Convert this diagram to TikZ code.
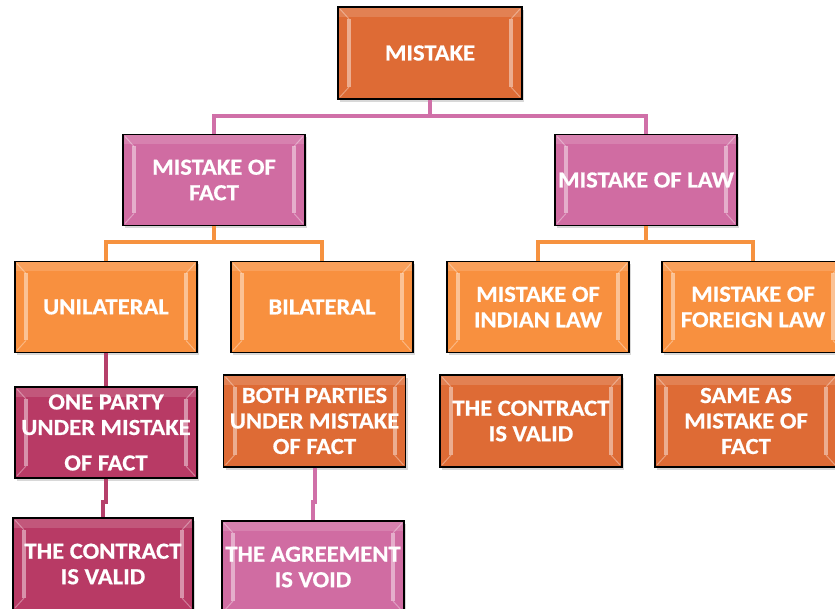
\documentclass[tikz,border=0pt]{standalone}
\usepackage{fontspec}
\setmainfont{Carlito}[FakeStretch=1.07, BoldFeatures={FakeBold=0.6}]
\usetikzlibrary{calc,shadows}
\definecolor{dkorange}{HTML}{DE6B35}
\definecolor{ltorange}{HTML}{F8903F}
\definecolor{pinkbox}{HTML}{D06CA2}
\definecolor{maroon}{HTML}{B83A65}
\definecolor{pinkline}{HTML}{D070A8}
\definecolor{orangeline}{HTML}{F6923F}
\definecolor{maroonline}{HTML}{B5406A}
\tikzset{
  box/.style={draw=black, line width=1.3pt, minimum width=182pt, minimum height=91pt,
    inner sep=0pt, text=white, align=center,
    font=\bfseries\fontsize{23}{25.5}\selectfont,
    drop shadow={opacity=0.3, shadow xshift=2pt, shadow yshift=-3pt},
    path picture={
      \coordinate (nw) at (path picture bounding box.north west);
      \coordinate (ne) at (path picture bounding box.north east);
      \coordinate (sw) at (path picture bounding box.south west);
      \coordinate (se) at (path picture bounding box.south east);
      \fill[white, opacity=0.45] ($(nw)+(9,12)$) rectangle ($(sw)+(13,-12)$);
      \fill[white, opacity=0.45] ($(ne)+(-9,12)$) rectangle ($(se)+(-13,-12)$);
      \draw[white, opacity=0.35, line width=1pt] ($(nw)+(2,2)$) -- ($(nw)+(11,12)$) ($(sw)+(2,-2)$) -- ($(sw)+(11,-12)$)
        ($(ne)+(-2,2)$) -- ($(ne)+(-11,12)$) ($(se)+(-2,-2)$) -- ($(se)+(-11,-12)$);
      \fill[white, opacity=0.15] ($(nw)+(0,0)$) rectangle ($(ne)+(0,10)$);
    }},
  conn/.style={line width=4pt}
}
\begin{document}
\begin{tikzpicture}[x=1pt, y=-1pt]
\useasboundingbox (0,0) rectangle (835,609);
\clip (0,0) rectangle (835,609);
\fill[white] (0,0) rectangle (835,609);
% junction levels
\coordinate (j1) at (0,116);
\coordinate (j2) at (0,242);
\coordinate (j3) at (0,502);
% nodes
\node[box, fill=dkorange, minimum width=184pt, minimum height=92pt] (top) at (430,53) {MISTAKE};
\node[box, fill=pinkbox] (fact) at (214,180) {MISTAKE OF\\FACT};
\node[box, fill=pinkbox] (law) at (646,180) {MISTAKE OF LAW};
\node[box, fill=ltorange] (uni) at (106,307) {UNILATERAL};
\node[box, fill=ltorange] (bi) at (322,307) {BILATERAL};
\node[box, fill=ltorange] (ind) at (538,307) {MISTAKE OF\\INDIAN LAW};
\node[box, fill=ltorange] (for) at (753,307) {MISTAKE OF\\FOREIGN LAW};
\node[box, fill=maroon] (one) at (106,432.5) {ONE PARTY\\UNDER MISTAKE\\[10pt]OF FACT};
\node[box, fill=dkorange, minimum height=92pt] (both) at (314.5,421) {BOTH PARTIES\\UNDER MISTAKE\\OF FACT};
\node[box, fill=dkorange, minimum height=92pt] (cvr) at (531,421) {THE CONTRACT\\IS VALID};
\node[box, fill=dkorange, minimum height=92pt] (same) at (746,421) {SAME AS\\MISTAKE OF\\FACT};
\node[box, fill=maroon, minimum width=180pt, minimum height=92pt] (cvl) at (103,564) {THE CONTRACT\\IS VALID};
\node[box, fill=pinkbox, minimum height=92pt] (void) at (313,567) {THE AGREEMENT\\IS VOID};
% connectors
\draw[conn, pinkline] (top.south) -- (top.south |- j1) -| (fact.north);
\draw[conn, pinkline] (top.south |- j1) -| (law.north);
\draw[conn, orangeline] (fact.south) -- (fact.south |- j2) -| (uni.north);
\draw[conn, orangeline] (fact.south |- j2) -| (bi.north);
\draw[conn, orangeline] (law.south) -- (law.south |- j2) -| (ind.north);
\draw[conn, orangeline] (law.south |- j2) -| (for.north);
\draw[conn, maroonline] (uni.south) -- (one.north);
\draw[conn, maroonline] (one.south) -- (one.south |- j3) -| (cvl.north);
\draw[conn, pinkline] (both.south) -- (both.south |- j3) -| (void.north);
\end{tikzpicture}
\end{document}
